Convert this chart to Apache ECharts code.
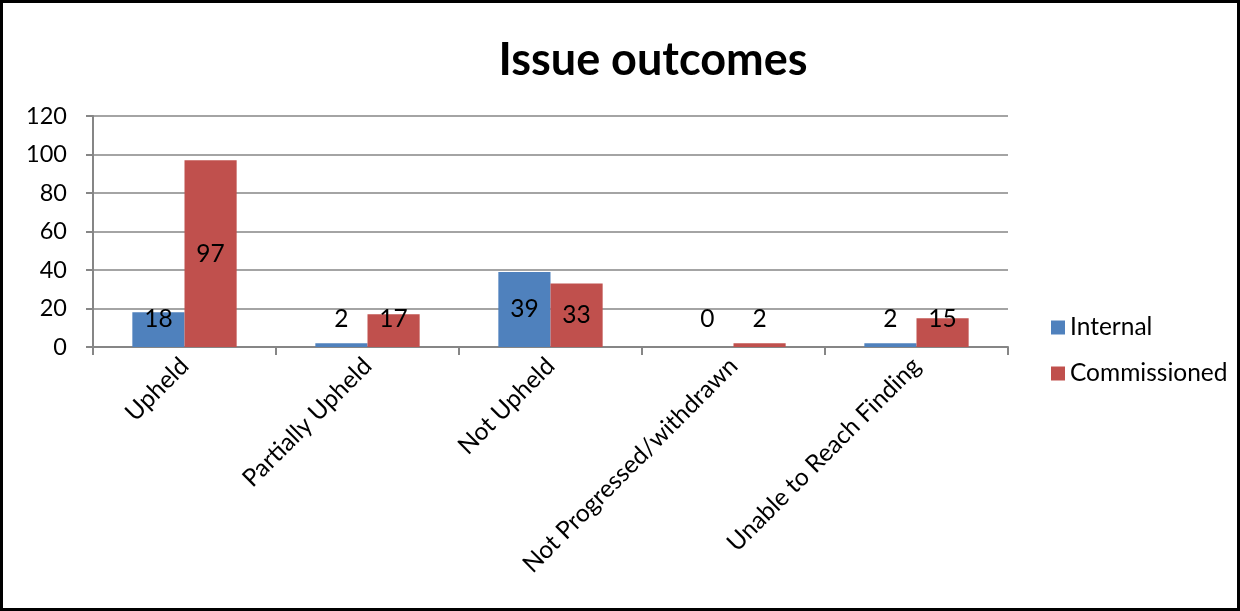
<!DOCTYPE html>
<html>
<head>
<meta charset="utf-8">
<script src="https://cdn.jsdelivr.net/npm/echarts@6/dist/echarts.min.js"></script>
<style>
  html, body { margin: 0; padding: 0; background: #fff; }
  #wrap { position: relative; width: 1240px; height: 611px; }
  #chart { position: absolute; left: 0; top: 0; width: 1240px; height: 611px; }
  #frame { position: absolute; left: 0; top: 0; width: 1240px; height: 611px;
           box-sizing: border-box; border: 3px solid #000; pointer-events: none; }
</style>
</head>
<body>
<div id="wrap">
  <div id="chart"></div>
  <div id="frame"></div>
</div>
<script>
var categories = ['Upheld', 'Partially Upheld', 'Not Upheld', 'Not Progressed/withdrawn', 'Unable to Reach Finding'];
var internalValues = [18, 2, 39, 0, 2];
var commissionedValues = [97, 17, 33, 2, 15];
var yTicks = [0, 20, 40, 60, 80, 100, 120];

var FONT = 'Lato, "Open Sans", sans-serif';

// small bars: Excel pushes the label up a bit, big ones stay centred
function withLabels(values) {
    return values.map(function (v) {
        if (v < 25) {
            return { value: v, label: { position: 'insideBottom', distance: 15 } };
        }
        return { value: v, label: { position: 'inside' } };
    });
}

var chart = echarts.init(document.getElementById('chart'));
chart.setOption({
    animation: false,
    title: {
        text: 'Issue outcomes',
        left: 648,
        top: 33,
        textAlign: 'center',
        textStyle: { fontFamily: FONT, fontSize: 45, fontWeight: 'bold', color: '#000' }
    },
    legend: {
        orient: 'vertical',
        left: 1046,
        top: 310,
        itemWidth: 14,
        itemHeight: 14,
        itemGap: 21,
        icon: 'rect',
        textStyle: { fontFamily: FONT, fontSize: 24.5, color: '#000', padding: [0, 0, 0, 0] },
        data: ['Internal', 'Commissioned']
    },
    grid: { left: 93, top: 116, width: 915, height: 231, containLabel: false },
    xAxis: {
        type: 'category',
        data: categories,
        axisLine: { lineStyle: { color: '#868686', width: 2 } },
        axisTick: { show: true, length: 8, alignWithLabel: false, lineStyle: { color: '#868686', width: 2 } },
        axisLabel: {
            rotate: 45,
            interval: 0,
            margin: 15,
            fontFamily: FONT,
            fontSize: 24.5,
            color: '#000'
        }
    },
    yAxis: {
        type: 'value',
        min: yTicks[0],
        max: yTicks[yTicks.length - 1],
        interval: 20,
        axisLine: { show: true, lineStyle: { color: '#868686', width: 2 } },
        axisTick: { show: true, length: 7, lineStyle: { color: '#868686', width: 2 } },
        splitLine: { lineStyle: { color: '#868686', width: 1.5 } },
        axisLabel: { fontFamily: FONT, fontSize: 23.5, color: '#000', margin: 26 }
    },
    series: [
        {
            name: 'Internal',
            type: 'bar',
            data: withLabels(internalValues),
            barGap: '0%',
            barCategoryGap: '43%',
            itemStyle: { color: '#4F81BD' },
            label: { show: true, fontFamily: FONT, fontSize: 24.5, color: '#000' }
        },
        {
            name: 'Commissioned',
            type: 'bar',
            data: withLabels(commissionedValues),
            barGap: '0%',
            barCategoryGap: '43%',
            itemStyle: { color: '#C0504D' },
            label: { show: true, fontFamily: FONT, fontSize: 24.5, color: '#000' }
        }
    ]
});
</script>
</body>
</html>
